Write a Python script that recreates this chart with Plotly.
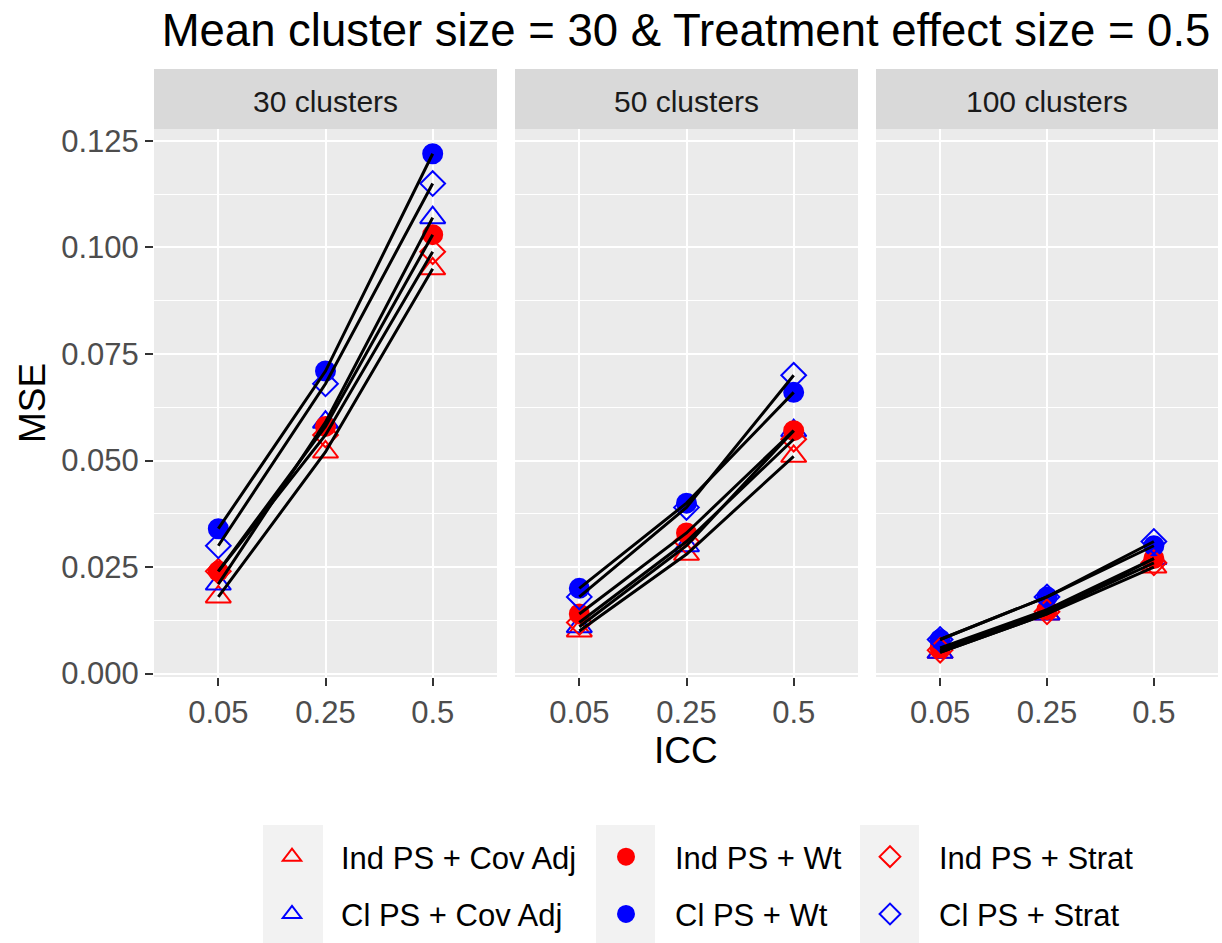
import plotly.graph_objects as go

# ---------------- data ----------------
icc_levels = ["0.05", "0.25", "0.5"]
panels = ["30 clusters", "50 clusters", "100 clusters"]

ind_cov_adj = {"30 clusters": [0.018, 0.052, 0.095],
               "50 clusters": [0.010, 0.028, 0.051],
               "100 clusters": [0.005, 0.014, 0.025]}
cl_cov_adj = {"30 clusters": [0.021, 0.059, 0.107],
              "50 clusters": [0.011, 0.030, 0.057],
              "100 clusters": [0.005, 0.014, 0.027]}
ind_wt = {"30 clusters": [0.024, 0.058, 0.103],
          "50 clusters": [0.014, 0.033, 0.057],
          "100 clusters": [0.006, 0.015, 0.027]}
cl_wt = {"30 clusters": [0.034, 0.071, 0.122],
         "50 clusters": [0.020, 0.040, 0.066],
         "100 clusters": [0.008, 0.018, 0.030]}
ind_strat = {"30 clusters": [0.024, 0.056, 0.099],
             "50 clusters": [0.012, 0.031, 0.055],
             "100 clusters": [0.0055, 0.0145, 0.026]}
cl_strat = {"30 clusters": [0.030, 0.068, 0.115],
            "50 clusters": [0.018, 0.039, 0.070],
            "100 clusters": [0.008, 0.018, 0.031]}

methods = ["Ind PS + Cov Adj", "Cl PS + Cov Adj", "Ind PS + Wt",
           "Cl PS + Wt", "Ind PS + Strat", "Cl PS + Strat"]
method_data = [ind_cov_adj, cl_cov_adj, ind_wt, cl_wt, ind_strat, cl_strat]

y_ticks = [0.000, 0.025, 0.050, 0.075, 0.100, 0.125]

# ---------------- styles ----------------
RED, BLUE = "#FF0000", "#0000FF"
styles = {
    "Ind PS + Cov Adj": dict(symbol="triangle-up-open", color=RED, size=22, legend="legend"),
    "Cl PS + Cov Adj": dict(symbol="triangle-up-open", color=BLUE, size=22, legend="legend"),
    "Ind PS + Wt": dict(symbol="circle", color=RED, size=19, legend="legend2"),
    "Cl PS + Wt": dict(symbol="circle", color=BLUE, size=19, legend="legend2"),
    "Ind PS + Strat": dict(symbol="diamond-open", color=RED, size=19, legend="legend3"),
    "Cl PS + Strat": dict(symbol="diamond-open", color=BLUE, size=19, legend="legend3"),
}

FONT = "Liberation Sans, Arial, sans-serif"
W, H = 1222, 943
ML, MR, MT, MB = 154, 4, 69, 266
PW = W - ML - MR
PH = H - MT - MB
px_x = lambda p: (p - ML) / PW
px_y = lambda p: (H - MB - p) / PH
cx = lambda p: p / W
cy = lambda p: 1 - p / H

x_domains = [[px_x(154), px_x(497)], [px_x(515), px_x(858)], [px_x(876), px_x(1218)]]
y_top = px_y(129)

fig = go.Figure()

axis_ids = ["", "2", "3"]

# markers first
for m, d in zip(methods, method_data):
    st = styles[m]
    for i, p in enumerate(panels):
        fig.add_trace(go.Scatter(
            x=icc_levels, y=d[p], mode="markers", name=m,
            xaxis="x" + axis_ids[i], yaxis="y" + axis_ids[i],
            marker=dict(symbol=st["symbol"], color=st["color"], size=st["size"],
                        line=dict(color=st["color"], width=2)),
            showlegend=(i == 0), legend=st["legend"], legendgroup=m,
            hoverinfo="x+y+name"))
# lines on top
for m, d in zip(methods, method_data):
    for i, p in enumerate(panels):
        fig.add_trace(go.Scatter(
            x=icc_levels, y=d[p], mode="lines", showlegend=False,
            xaxis="x" + axis_ids[i], yaxis="y" + axis_ids[i],
            line=dict(color="black", width=3), hoverinfo="skip"))

shapes = []
annotations = []
for i, p in enumerate(panels):
    xa = "xaxis" + axis_ids[i]
    ya = "yaxis" + axis_ids[i]
    fig.layout[xa] = dict(
        domain=x_domains[i], type="category", categoryorder="array",
        categoryarray=icc_levels, range=[-0.6, 2.6],
        showgrid=True, gridcolor="white", gridwidth=2.2,
        ticks="outside", ticklen=8, tickwidth=2, tickcolor="#333333",
        tickfont=dict(family=FONT, size=31, color="#4D4D4D"),
        zeroline=False, showline=False, anchor="y" + axis_ids[i], automargin=False)
    fig.layout[ya] = dict(
        domain=[0, y_top], range=[-0.0008, 0.1278],
        tickvals=y_ticks, ticktext=[f"{v:.3f}" for v in y_ticks],
        showticklabels=(i == 0),
        showgrid=True, gridcolor="white", gridwidth=2.2,
        minor=dict(dtick=0.0125, tick0=0, showgrid=True, gridcolor="white", gridwidth=1.1, ticks=""),
        ticks="outside" if i == 0 else "", ticklen=8, tickwidth=2, tickcolor="#333333",
        tickfont=dict(family=FONT, size=31, color="#4D4D4D"),
        zeroline=False, showline=False, anchor="x" + axis_ids[i], automargin=False)
    # strip
    shapes.append(dict(type="rect", xref="paper", yref="paper",
                       x0=x_domains[i][0], x1=x_domains[i][1], y0=y_top, y1=1,
                       fillcolor="#D9D9D9", line=dict(width=0), layer="below"))
    annotations.append(dict(text=p, xref="paper", yref="paper",
                            x=(x_domains[i][0] + x_domains[i][1]) / 2, y=px_y(101),
                            xanchor="center", yanchor="middle", showarrow=False,
                            font=dict(family=FONT, size=30, color="#1A1A1A")))

# legend key backgrounds
for x0, x1 in [(263, 323), (596, 655), (860, 919)]:
    shapes.append(dict(type="rect", xref="paper", yref="paper",
                       x0=px_x(x0), x1=px_x(x1), y0=px_y(943), y1=px_y(825),
                       fillcolor="#F2F2F2", line=dict(width=0), layer="below"))

annotations.append(dict(text="ICC", xref="paper", yref="paper", x=0.5, y=px_y(750),
                        xanchor="center", yanchor="middle", showarrow=False,
                        font=dict(family=FONT, size=37, color="black")))
annotations.append(dict(text="MSE", xref="paper", yref="paper", x=px_x(32), y=px_y(403),
                        xanchor="center", yanchor="middle", showarrow=False, textangle=-90,
                        font=dict(family=FONT, size=37, color="black")))

leg_common = dict(orientation="v", xanchor="left", yanchor="top",
                  xref="container", yref="container",
                  bgcolor="rgba(0,0,0,0)", borderwidth=0, tracegroupgap=14,
                  font=dict(family=FONT, size=31, color="black"), itemwidth=88)
fig.update_layout(
    legend=dict(x=cx(243), y=cy(830), **leg_common),
    legend2=dict(x=cx(577), y=cy(830), **leg_common),
    legend3=dict(x=cx(841), y=cy(830), **leg_common),
)

fig.update_layout(
    width=W, height=H,
    margin=dict(l=ML, r=MR, t=MT, b=MB, autoexpand=False),
    paper_bgcolor="white", plot_bgcolor="#EBEBEB",
    title=dict(text="Mean cluster size = 30 & Treatment effect size = 0.5",
               x=0.5, xref="paper", xanchor="center", y=1 - 30 / H, yanchor="middle",
               font=dict(family=FONT, size=45.5, color="black")),
    shapes=shapes, annotations=annotations,
    font=dict(family=FONT),
)

fig.write_html("out.html")
